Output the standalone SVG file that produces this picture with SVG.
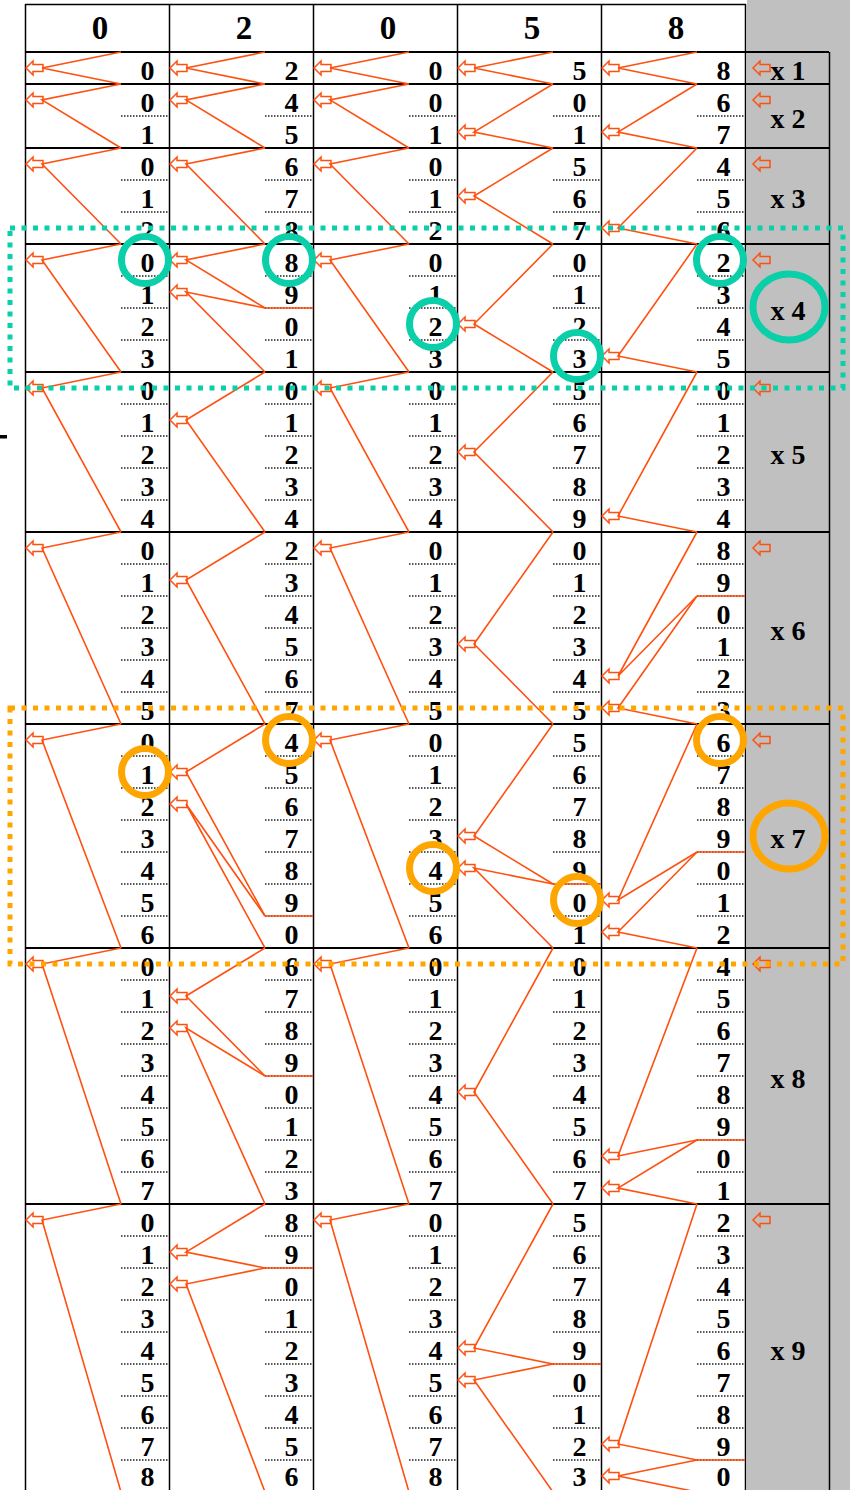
<svg xmlns="http://www.w3.org/2000/svg" xmlns:xlink="http://www.w3.org/1999/xlink" width="850" height="1490" viewBox="0 0 850 1490">
<style>
.grid{stroke:#000;stroke-width:1.5;fill:none}
.rb{stroke:#000;stroke-width:2;fill:none}
.dg{font-family:"Liberation Serif","Times New Roman",serif;font-weight:bold;font-size:28px;text-anchor:end;fill:#000}
.hd{font-family:"Liberation Serif","Times New Roman",serif;font-weight:bold;font-size:33px;text-anchor:middle;fill:#000}
.lb{font-family:"Liberation Serif","Times New Roman",serif;font-weight:bold;font-size:28px;text-anchor:middle;fill:#000}
.ar{fill:none;stroke:#FF5010;stroke-width:1.5}
.cn polyline,.cn line{fill:none;stroke:#FF5010;stroke-width:1.6}
.dt{stroke:#222;stroke-width:1.5;stroke-dasharray:1.5 1.5;fill:none}
.ct{fill:none;stroke:#0ACFA8;stroke-width:7}
.bt{fill:none;stroke:#0ACFA8;stroke-width:5;stroke-dasharray:5 6.5}
.co{fill:none;stroke:#FFA500;stroke-width:7}
.bo{fill:none;stroke:#FFA500;stroke-width:5;stroke-dasharray:5 6.5}
</style>
<defs>
<path id="ar" d="M0,0 L7,-7 L7,-3.5 L17,-3.5 L17,3.5 L7,3.5 L7,7 Z"/>
<path id="dots" d="M121,116h48M121,180h48M121,212h48M121,276h48M121,308h48M121,340h48M121,404h48M121,436h48M121,468h48M121,500h48M121,564h48M121,596h48M121,628h48M121,660h48M121,692h48M121,756h48M121,788h48M121,820h48M121,852h48M121,884h48M121,916h48M121,980h48M121,1012h48M121,1044h48M121,1076h48M121,1108h48M121,1140h48M121,1172h48M121,1236h48M121,1268h48M121,1300h48M121,1332h48M121,1364h48M121,1396h48M121,1428h48M121,1460h48"/>
</defs>
<rect x="0" y="0" width="850" height="1490" fill="#fff"/>
<rect x="747" y="0" width="103" height="1490" fill="#C0C0C0"/>
<rect x="0" y="435" width="7" height="3.5" fill="#000"/>

<g id="grid">
<line class="grid" x1="25" y1="4.5" x2="746" y2="4.5"/>
<g class="rb">
<line x1="25" y1="52" x2="829" y2="52"/>
<line x1="25" y1="84" x2="829" y2="84"/>
<line x1="25" y1="148" x2="829" y2="148"/>
<line x1="25" y1="244" x2="829" y2="244"/>
<line x1="25" y1="372" x2="829" y2="372"/>
<line x1="25" y1="532" x2="829" y2="532"/>
<line x1="25" y1="724" x2="829" y2="724"/>
<line x1="25" y1="948" x2="829" y2="948"/>
<line x1="25" y1="1204" x2="829" y2="1204"/>
</g>
<g class="grid">
<line x1="25.5" y1="4" x2="25.5" y2="1490"/>
<line x1="169.5" y1="4" x2="169.5" y2="1490"/>
<line x1="313.5" y1="4" x2="313.5" y2="1490"/>
<line x1="457.5" y1="4" x2="457.5" y2="1490"/>
<line x1="601.5" y1="4" x2="601.5" y2="1490"/>
<line x1="745.5" y1="4" x2="745.5" y2="1490"/>
<line x1="829.5" y1="52" x2="829.5" y2="1490"/>
</g>
<g id="dotted">
<use xlink:href="#dots" href="#dots" class="dt"/>
<use xlink:href="#dots" href="#dots" class="dt" x="144"/>
<use xlink:href="#dots" href="#dots" class="dt" x="288"/>
<use xlink:href="#dots" href="#dots" class="dt" x="432"/>
<use xlink:href="#dots" href="#dots" class="dt" x="576"/>
</g>
</g>

<g id="header">
<text class="hd" x="100" y="39">0</text>
<text class="hd" x="244" y="39">2</text>
<text class="hd" x="388" y="39">0</text>
<text class="hd" x="532" y="39">5</text>
<text class="hd" x="676" y="39">8</text>
</g>

<g id="connectors" class="cn">
<polyline points="121,52 42,68 121,84"/>
<polyline points="121,84 42,100 121,148"/>
<polyline points="121,148 42,164 121,244"/>
<polyline points="121,244 42,260 121,372"/>
<polyline points="121,372 42,388 121,532"/>
<polyline points="121,532 42,548 121,724"/>
<polyline points="121,724 42,740 121,948"/>
<polyline points="121,948 42,964 121,1204"/>
<polyline points="121,1204 42,1220 121,1492"/>

<polyline points="265,52 186,68 265,84"/>
<polyline points="265,84 186,100 265,148"/>
<polyline points="265,148 186,164 265,244"/>
<polyline points="265,244 186,260 265,308"/>
<polyline points="265,308 186,292 265,372"/>
<line x1="265" y1="308" x2="313" y2="308"/>
<polyline points="265,372 186,420 265,532"/>
<polyline points="265,532 186,580 265,724"/>
<polyline points="265,724 186,772 265,916"/>
<polyline points="265,916 186,804 265,948"/>
<line x1="265" y1="916" x2="313" y2="916"/>
<polyline points="265,948 186,996 265,1076"/>
<polyline points="265,1076 186,1028 265,1204"/>
<line x1="265" y1="1076" x2="313" y2="1076"/>
<polyline points="265,1204 186,1252 265,1268"/>
<polyline points="265,1268 186,1284 265,1492"/>
<line x1="265" y1="1268" x2="313" y2="1268"/>

<polyline points="409,52 330,68 409,84"/>
<polyline points="409,84 330,100 409,148"/>
<polyline points="409,148 330,164 409,244"/>
<polyline points="409,244 330,260 409,372"/>
<polyline points="409,372 330,388 409,532"/>
<polyline points="409,532 330,548 409,724"/>
<polyline points="409,724 330,740 409,948"/>
<polyline points="409,948 330,964 409,1204"/>
<polyline points="409,1204 330,1220 409,1492"/>

<polyline points="553,52 474,68 553,84"/>
<polyline points="553,84 474,132 553,148"/>
<polyline points="553,148 474,196 553,244"/>
<polyline points="553,244 474,324 553,372"/>
<polyline points="553,372 474,452 553,532"/>
<polyline points="553,532 474,644 553,724"/>
<polyline points="553,724 474,836 553,884"/>
<polyline points="553,884 474,868 553,948"/>
<line x1="553" y1="884" x2="601" y2="884"/>
<polyline points="553,948 474,1092 553,1204"/>
<polyline points="553,1204 474,1348 553,1364"/>
<polyline points="553,1364 474,1380 553,1492"/>
<line x1="553" y1="1364" x2="601" y2="1364"/>

<polyline points="697,52 618,68 697,84"/>
<polyline points="697,84 618,132 697,148"/>
<polyline points="697,148 618,228 697,244"/>
<polyline points="697,244 618,356 697,372"/>
<polyline points="697,372 618,516 697,532"/>
<polyline points="697,532 618,676 697,596"/>
<polyline points="697,596 618,708 697,724"/>
<line x1="697" y1="596" x2="745" y2="596"/>
<polyline points="697,724 618,900 697,852"/>
<polyline points="697,852 618,932 697,948"/>
<line x1="697" y1="852" x2="745" y2="852"/>
<polyline points="697,948 618,1156 697,1140"/>
<polyline points="697,1140 618,1188 697,1204"/>
<line x1="697" y1="1140" x2="745" y2="1140"/>
<polyline points="697,1204 618,1444 697,1460"/>
<polyline points="697,1460 618,1476 697,1492"/>
<line x1="697" y1="1460" x2="745" y2="1460"/>
</g>

<g id="rod-0a">
<g class="ar">
<use href="#ar" x="26" y="68"/><use href="#ar" x="26" y="100"/><use href="#ar" x="26" y="164"/><use href="#ar" x="26" y="260"/><use href="#ar" x="26" y="388"/><use href="#ar" x="26" y="548"/><use href="#ar" x="26" y="740"/><use href="#ar" x="26" y="964"/><use href="#ar" x="26" y="1220"/>
</g>
<g class="dg">
<text x="154.5" y="80">0</text>
<text x="154.5" y="112">0</text><text x="154.5" y="144">1</text>
<text x="154.5" y="176">0</text><text x="154.5" y="208">1</text><text x="154.5" y="240">2</text>
<text x="154.5" y="272">0</text><text x="154.5" y="304">1</text><text x="154.5" y="336">2</text><text x="154.5" y="368">3</text>
<text x="154.5" y="400">0</text><text x="154.5" y="432">1</text><text x="154.5" y="464">2</text><text x="154.5" y="496">3</text><text x="154.5" y="528">4</text>
<text x="154.5" y="560">0</text><text x="154.5" y="592">1</text><text x="154.5" y="624">2</text><text x="154.5" y="656">3</text><text x="154.5" y="688">4</text><text x="154.5" y="720">5</text>
<text x="154.5" y="752">0</text><text x="154.5" y="784">1</text><text x="154.5" y="816">2</text><text x="154.5" y="848">3</text><text x="154.5" y="880">4</text><text x="154.5" y="912">5</text><text x="154.5" y="944">6</text>
<text x="154.5" y="976">0</text><text x="154.5" y="1008">1</text><text x="154.5" y="1040">2</text><text x="154.5" y="1072">3</text><text x="154.5" y="1104">4</text><text x="154.5" y="1136">5</text><text x="154.5" y="1168">6</text><text x="154.5" y="1200">7</text>
<text x="154.5" y="1232">0</text><text x="154.5" y="1264">1</text><text x="154.5" y="1296">2</text><text x="154.5" y="1328">3</text><text x="154.5" y="1360">4</text><text x="154.5" y="1392">5</text><text x="154.5" y="1424">6</text><text x="154.5" y="1456">7</text><text x="154.5" y="1486">8</text>
</g>
</g>

<g id="rod-2">
<g class="ar">
<use href="#ar" x="170" y="68"/><use href="#ar" x="170" y="100"/><use href="#ar" x="170" y="164"/><use href="#ar" x="170" y="260"/><use href="#ar" x="170" y="292"/><use href="#ar" x="170" y="420"/><use href="#ar" x="170" y="580"/><use href="#ar" x="170" y="772"/><use href="#ar" x="170" y="804"/><use href="#ar" x="170" y="996"/><use href="#ar" x="170" y="1028"/><use href="#ar" x="170" y="1252"/><use href="#ar" x="170" y="1284"/>
</g>
<g class="dg">
<text x="298.5" y="80">2</text>
<text x="298.5" y="112">4</text><text x="298.5" y="144">5</text>
<text x="298.5" y="176">6</text><text x="298.5" y="208">7</text><text x="298.5" y="240">8</text>
<text x="298.5" y="272">8</text><text x="298.5" y="304">9</text><text x="298.5" y="336">0</text><text x="298.5" y="368">1</text>
<text x="298.5" y="400">0</text><text x="298.5" y="432">1</text><text x="298.5" y="464">2</text><text x="298.5" y="496">3</text><text x="298.5" y="528">4</text>
<text x="298.5" y="560">2</text><text x="298.5" y="592">3</text><text x="298.5" y="624">4</text><text x="298.5" y="656">5</text><text x="298.5" y="688">6</text><text x="298.5" y="720">7</text>
<text x="298.5" y="752">4</text><text x="298.5" y="784">5</text><text x="298.5" y="816">6</text><text x="298.5" y="848">7</text><text x="298.5" y="880">8</text><text x="298.5" y="912">9</text><text x="298.5" y="944">0</text>
<text x="298.5" y="976">6</text><text x="298.5" y="1008">7</text><text x="298.5" y="1040">8</text><text x="298.5" y="1072">9</text><text x="298.5" y="1104">0</text><text x="298.5" y="1136">1</text><text x="298.5" y="1168">2</text><text x="298.5" y="1200">3</text>
<text x="298.5" y="1232">8</text><text x="298.5" y="1264">9</text><text x="298.5" y="1296">0</text><text x="298.5" y="1328">1</text><text x="298.5" y="1360">2</text><text x="298.5" y="1392">3</text><text x="298.5" y="1424">4</text><text x="298.5" y="1456">5</text><text x="298.5" y="1486">6</text>
</g>
</g>

<g id="rod-0b">
<g class="ar">
<use href="#ar" x="314" y="68"/><use href="#ar" x="314" y="100"/><use href="#ar" x="314" y="164"/><use href="#ar" x="314" y="260"/><use href="#ar" x="314" y="388"/><use href="#ar" x="314" y="548"/><use href="#ar" x="314" y="740"/><use href="#ar" x="314" y="964"/><use href="#ar" x="314" y="1220"/>
</g>
<g class="dg">
<text x="442.5" y="80">0</text>
<text x="442.5" y="112">0</text><text x="442.5" y="144">1</text>
<text x="442.5" y="176">0</text><text x="442.5" y="208">1</text><text x="442.5" y="240">2</text>
<text x="442.5" y="272">0</text><text x="442.5" y="304">1</text><text x="442.5" y="336">2</text><text x="442.5" y="368">3</text>
<text x="442.5" y="400">0</text><text x="442.5" y="432">1</text><text x="442.5" y="464">2</text><text x="442.5" y="496">3</text><text x="442.5" y="528">4</text>
<text x="442.5" y="560">0</text><text x="442.5" y="592">1</text><text x="442.5" y="624">2</text><text x="442.5" y="656">3</text><text x="442.5" y="688">4</text><text x="442.5" y="720">5</text>
<text x="442.5" y="752">0</text><text x="442.5" y="784">1</text><text x="442.5" y="816">2</text><text x="442.5" y="848">3</text><text x="442.5" y="880">4</text><text x="442.5" y="912">5</text><text x="442.5" y="944">6</text>
<text x="442.5" y="976">0</text><text x="442.5" y="1008">1</text><text x="442.5" y="1040">2</text><text x="442.5" y="1072">3</text><text x="442.5" y="1104">4</text><text x="442.5" y="1136">5</text><text x="442.5" y="1168">6</text><text x="442.5" y="1200">7</text>
<text x="442.5" y="1232">0</text><text x="442.5" y="1264">1</text><text x="442.5" y="1296">2</text><text x="442.5" y="1328">3</text><text x="442.5" y="1360">4</text><text x="442.5" y="1392">5</text><text x="442.5" y="1424">6</text><text x="442.5" y="1456">7</text><text x="442.5" y="1486">8</text>
</g>
</g>

<g id="rod-5">
<g class="ar">
<use href="#ar" x="458" y="68"/><use href="#ar" x="458" y="132"/><use href="#ar" x="458" y="196"/><use href="#ar" x="458" y="324"/><use href="#ar" x="458" y="452"/><use href="#ar" x="458" y="644"/><use href="#ar" x="458" y="836"/><use href="#ar" x="458" y="868"/><use href="#ar" x="458" y="1092"/><use href="#ar" x="458" y="1348"/><use href="#ar" x="458" y="1380"/>
</g>
<g class="dg">
<text x="586.5" y="80">5</text>
<text x="586.5" y="112">0</text><text x="586.5" y="144">1</text>
<text x="586.5" y="176">5</text><text x="586.5" y="208">6</text><text x="586.5" y="240">7</text>
<text x="586.5" y="272">0</text><text x="586.5" y="304">1</text><text x="586.5" y="336">2</text><text x="586.5" y="368">3</text>
<text x="586.5" y="400">5</text><text x="586.5" y="432">6</text><text x="586.5" y="464">7</text><text x="586.5" y="496">8</text><text x="586.5" y="528">9</text>
<text x="586.5" y="560">0</text><text x="586.5" y="592">1</text><text x="586.5" y="624">2</text><text x="586.5" y="656">3</text><text x="586.5" y="688">4</text><text x="586.5" y="720">5</text>
<text x="586.5" y="752">5</text><text x="586.5" y="784">6</text><text x="586.5" y="816">7</text><text x="586.5" y="848">8</text><text x="586.5" y="880">9</text><text x="586.5" y="912">0</text><text x="586.5" y="944">1</text>
<text x="586.5" y="976">0</text><text x="586.5" y="1008">1</text><text x="586.5" y="1040">2</text><text x="586.5" y="1072">3</text><text x="586.5" y="1104">4</text><text x="586.5" y="1136">5</text><text x="586.5" y="1168">6</text><text x="586.5" y="1200">7</text>
<text x="586.5" y="1232">5</text><text x="586.5" y="1264">6</text><text x="586.5" y="1296">7</text><text x="586.5" y="1328">8</text><text x="586.5" y="1360">9</text><text x="586.5" y="1392">0</text><text x="586.5" y="1424">1</text><text x="586.5" y="1456">2</text><text x="586.5" y="1486">3</text>
</g>
</g>

<g id="rod-8">
<g class="ar">
<use href="#ar" x="602" y="68"/><use href="#ar" x="602" y="132"/><use href="#ar" x="602" y="228"/><use href="#ar" x="602" y="356"/><use href="#ar" x="602" y="516"/><use href="#ar" x="602" y="676"/><use href="#ar" x="602" y="708"/><use href="#ar" x="602" y="900"/><use href="#ar" x="602" y="932"/><use href="#ar" x="602" y="1156"/><use href="#ar" x="602" y="1188"/><use href="#ar" x="602" y="1444"/><use href="#ar" x="602" y="1476"/>
</g>
<g class="dg">
<text x="730.5" y="80">8</text>
<text x="730.5" y="112">6</text><text x="730.5" y="144">7</text>
<text x="730.5" y="176">4</text><text x="730.5" y="208">5</text><text x="730.5" y="240">6</text>
<text x="730.5" y="272">2</text><text x="730.5" y="304">3</text><text x="730.5" y="336">4</text><text x="730.5" y="368">5</text>
<text x="730.5" y="400">0</text><text x="730.5" y="432">1</text><text x="730.5" y="464">2</text><text x="730.5" y="496">3</text><text x="730.5" y="528">4</text>
<text x="730.5" y="560">8</text><text x="730.5" y="592">9</text><text x="730.5" y="624">0</text><text x="730.5" y="656">1</text><text x="730.5" y="688">2</text><text x="730.5" y="720">3</text>
<text x="730.5" y="752">6</text><text x="730.5" y="784">7</text><text x="730.5" y="816">8</text><text x="730.5" y="848">9</text><text x="730.5" y="880">0</text><text x="730.5" y="912">1</text><text x="730.5" y="944">2</text>
<text x="730.5" y="976">4</text><text x="730.5" y="1008">5</text><text x="730.5" y="1040">6</text><text x="730.5" y="1072">7</text><text x="730.5" y="1104">8</text><text x="730.5" y="1136">9</text><text x="730.5" y="1168">0</text><text x="730.5" y="1200">1</text>
<text x="730.5" y="1232">2</text><text x="730.5" y="1264">3</text><text x="730.5" y="1296">4</text><text x="730.5" y="1328">5</text><text x="730.5" y="1360">6</text><text x="730.5" y="1392">7</text><text x="730.5" y="1424">8</text><text x="730.5" y="1456">9</text><text x="730.5" y="1486">0</text>
</g>
</g>

<g id="index-rod">
<g class="ar">
<use href="#ar" x="753" y="68"/><use href="#ar" x="753" y="100"/><use href="#ar" x="753" y="164"/><use href="#ar" x="753" y="260"/><use href="#ar" x="753" y="388"/><use href="#ar" x="753" y="548"/><use href="#ar" x="753" y="740"/><use href="#ar" x="753" y="964"/><use href="#ar" x="753" y="1220"/>
</g>
<g class="lb">
<text x="788" y="80">x 1</text>
<text x="788" y="128">x 2</text>
<text x="788" y="208">x 3</text>
<text x="788" y="320">x 4</text>
<text x="788" y="464">x 5</text>
<text x="788" y="640">x 6</text>
<text x="788" y="848">x 7</text>
<text x="788" y="1088">x 8</text>
<text x="788" y="1360">x 9</text>
</g>
</g>

<g id="highlight-x4">
<rect class="bt" x="10" y="228" width="833" height="160"/>
<circle class="ct" cx="145" cy="260" r="23.5"/>
<circle class="ct" cx="289" cy="260" r="23.5"/>
<circle class="ct" cx="433" cy="324" r="23.5"/>
<circle class="ct" cx="577" cy="356" r="23.5"/>
<circle class="ct" cx="720" cy="260" r="23.5"/>
<ellipse class="ct" cx="789" cy="307" rx="36" ry="33"/>
</g>

<g id="highlight-x7">
<rect class="bo" x="10" y="708" width="833" height="256"/>
<circle class="co" cx="145" cy="772" r="23.5"/>
<circle class="co" cx="289" cy="740" r="23.5"/>
<circle class="co" cx="433" cy="868" r="23.5"/>
<circle class="co" cx="577" cy="900" r="23.5"/>
<circle class="co" cx="720" cy="740" r="23.5"/>
<ellipse class="co" cx="789" cy="836" rx="36" ry="33"/>
</g>
</svg>
